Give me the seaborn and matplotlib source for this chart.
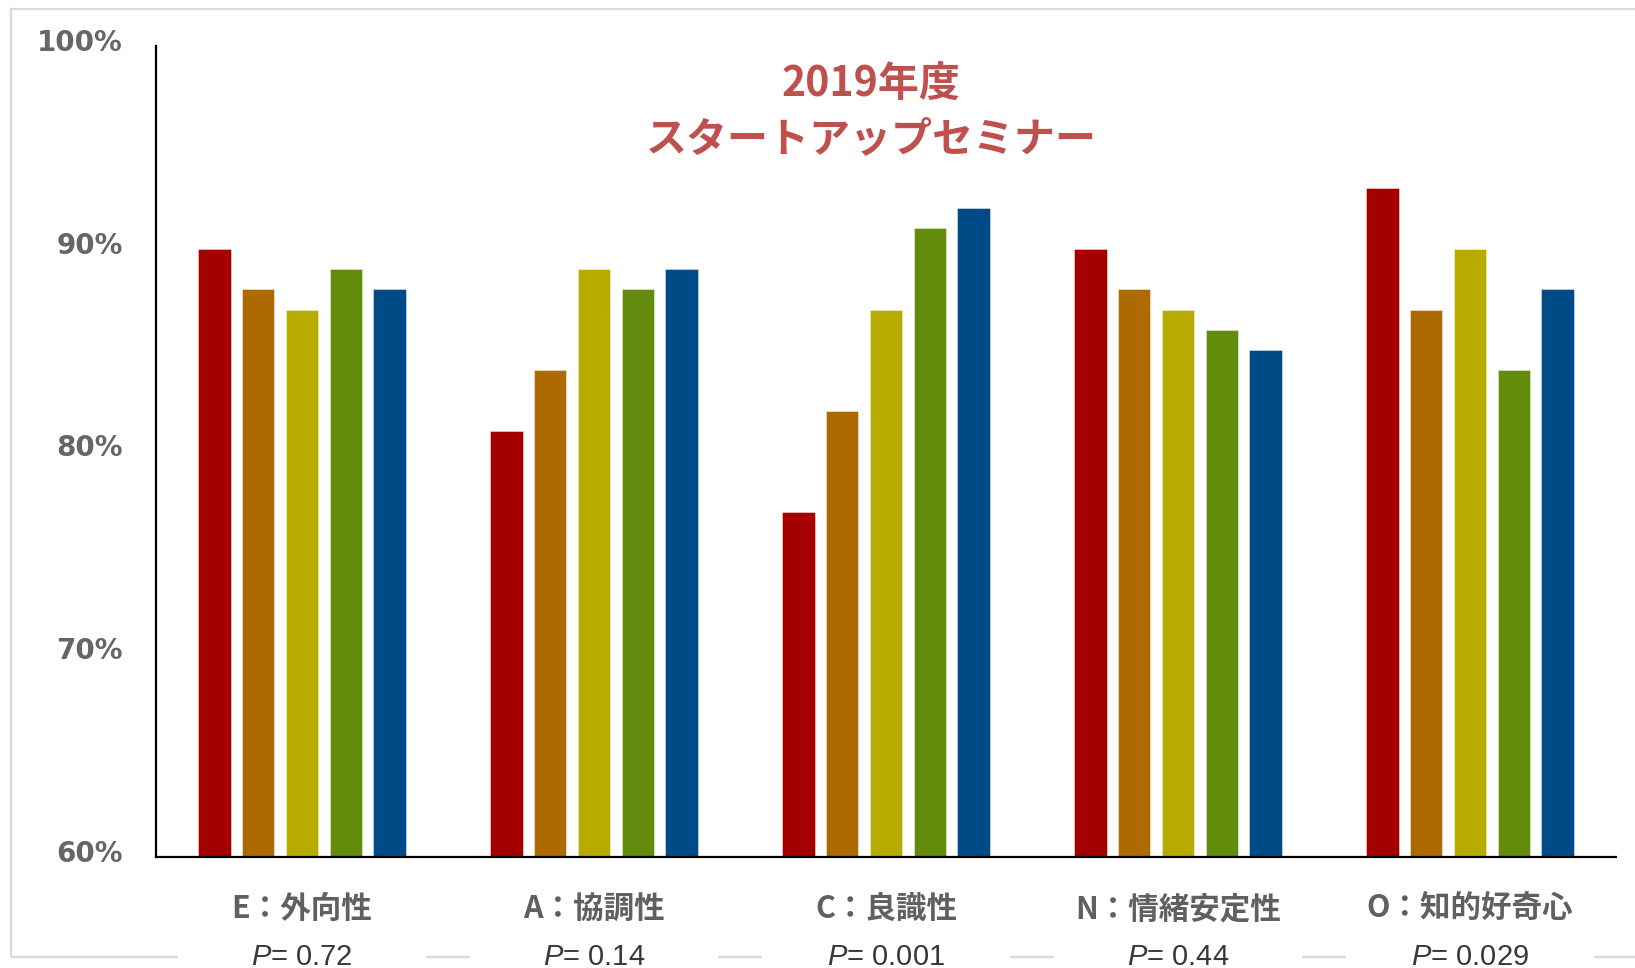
import numpy as np
import pandas as pd
import matplotlib
matplotlib.use('Agg')
import matplotlib.pyplot as plt
import matplotlib.transforms as mtransforms
from matplotlib.patches import Rectangle
from matplotlib.ticker import FuncFormatter
import seaborn as sns

# データ (%)
categories = ['E：外向性', 'A：協調性', 'C：良識性', 'N：情緒安定性', 'O：知的好奇心']
p_values = ['0.72', '0.14', '0.001', '0.44', '0.029']
series = ['s1', 's2', 's3', 's4', 's5']
values_s1 = [90, 81, 77, 90, 93]
values_s2 = [88, 84, 82, 88, 87]
values_s3 = [87, 89, 87, 87, 90]
values_s4 = [89, 88, 91, 86, 84]
values_s5 = [88, 89, 92, 85, 88]
colors = ['#A50000', '#AD6A00', '#B7AB00', '#628A0B', '#004A87']
title = '2019年度\nスタートアップセミナー'

rows = []
for s, vals in zip(series, [values_s1, values_s2, values_s3, values_s4, values_s5]):
    for c, v in zip(categories, vals):
        rows.append({'category': c, 'series': s, 'value': v})
df = pd.DataFrame(rows)

sns.set_style('white')
plt.rcParams['font.family'] = ['Noto Sans CJK JP', 'DejaVu Sans']
plt.rcParams['mathtext.fontset'] = 'custom'
plt.rcParams['mathtext.it'] = 'Liberation Sans:italic'
plt.rcParams['mathtext.rm'] = 'Liberation Sans'

W, H = 1635, 968
fig = plt.figure(figsize=(W / 100, H / 100), dpi=100)
ax = fig.add_axes([156 / W, 1 - 857 / H, (1616 - 156) / W, (857 - 46) / H])
ax.set_facecolor('none')

sns.barplot(data=df, x='category', y='value', hue='series', palette=colors,
            width=0.75, gap=0.26, saturation=1, edgecolor='#ffffff80', linewidth=0.6,
            legend=False, ax=ax, order=categories, hue_order=series)

ax.set_ylim(60, 100)
ax.set_xlim(-0.5, len(categories) - 0.5)
ax.set_yticks([60, 70, 80, 90, 100])
ax.yaxis.set_major_formatter(FuncFormatter(lambda v, _: f'{v:.0f}%'))
ax.set_xlabel('')
ax.set_ylabel('')
for side in ['top', 'right']:
    ax.spines[side].set_visible(False)
for side in ['left', 'bottom']:
    ax.spines[side].set_color('black')
    ax.spines[side].set_linewidth(1.6)
ax.tick_params(axis='both', length=0)
ax.tick_params(axis='y', pad=24)
ax.tick_params(axis='x', pad=26)
up = mtransforms.ScaledTranslation(0, 6 / 100, fig.dpi_scale_trans)
for t in ax.get_yticklabels():
    t.set_fontfamily('DejaVu Sans')
    t.set_fontweight('bold')
    t.set_fontsize(20)
    t.set_color('#666666')
    t.set_transform(t.get_transform() + up)
for t in ax.get_xticklabels():
    t.set_fontweight('bold')
    t.set_fontsize(22)
    t.set_color('#606060')

# タイトル
ax.text(0.49, 0.979, title, transform=ax.transAxes, ha='center', va='top',
        fontsize=29.5, fontweight='bold', color='#C0504D', linespacing=1.4)

# 外枠
fig.add_artist(Rectangle((11 / W, 1 - 957 / H), 2, (957 - 9) / H,
                         transform=fig.transFigure, fill=False,
                         edgecolor='#D9D9D9', linewidth=1.6, zorder=-1))

# P値
trans = mtransforms.blended_transform_factory(ax.transData, fig.transFigure)
for i, p in enumerate(p_values):
    ax.add_patch(Rectangle((i - 0.425, 1 - 970 / H), 0.85, 26 / H, transform=trans,
                           facecolor='white', edgecolor='none', clip_on=False, zorder=5))
    ax.text(i, 1 - 957 / H, r'$\mathit{P}$= ' + p, transform=trans, ha='center', va='center',
            fontsize=21, color='#383838', fontfamily='Liberation Sans',
            clip_on=False, zorder=6)

fig.savefig('out.png', dpi=100)
